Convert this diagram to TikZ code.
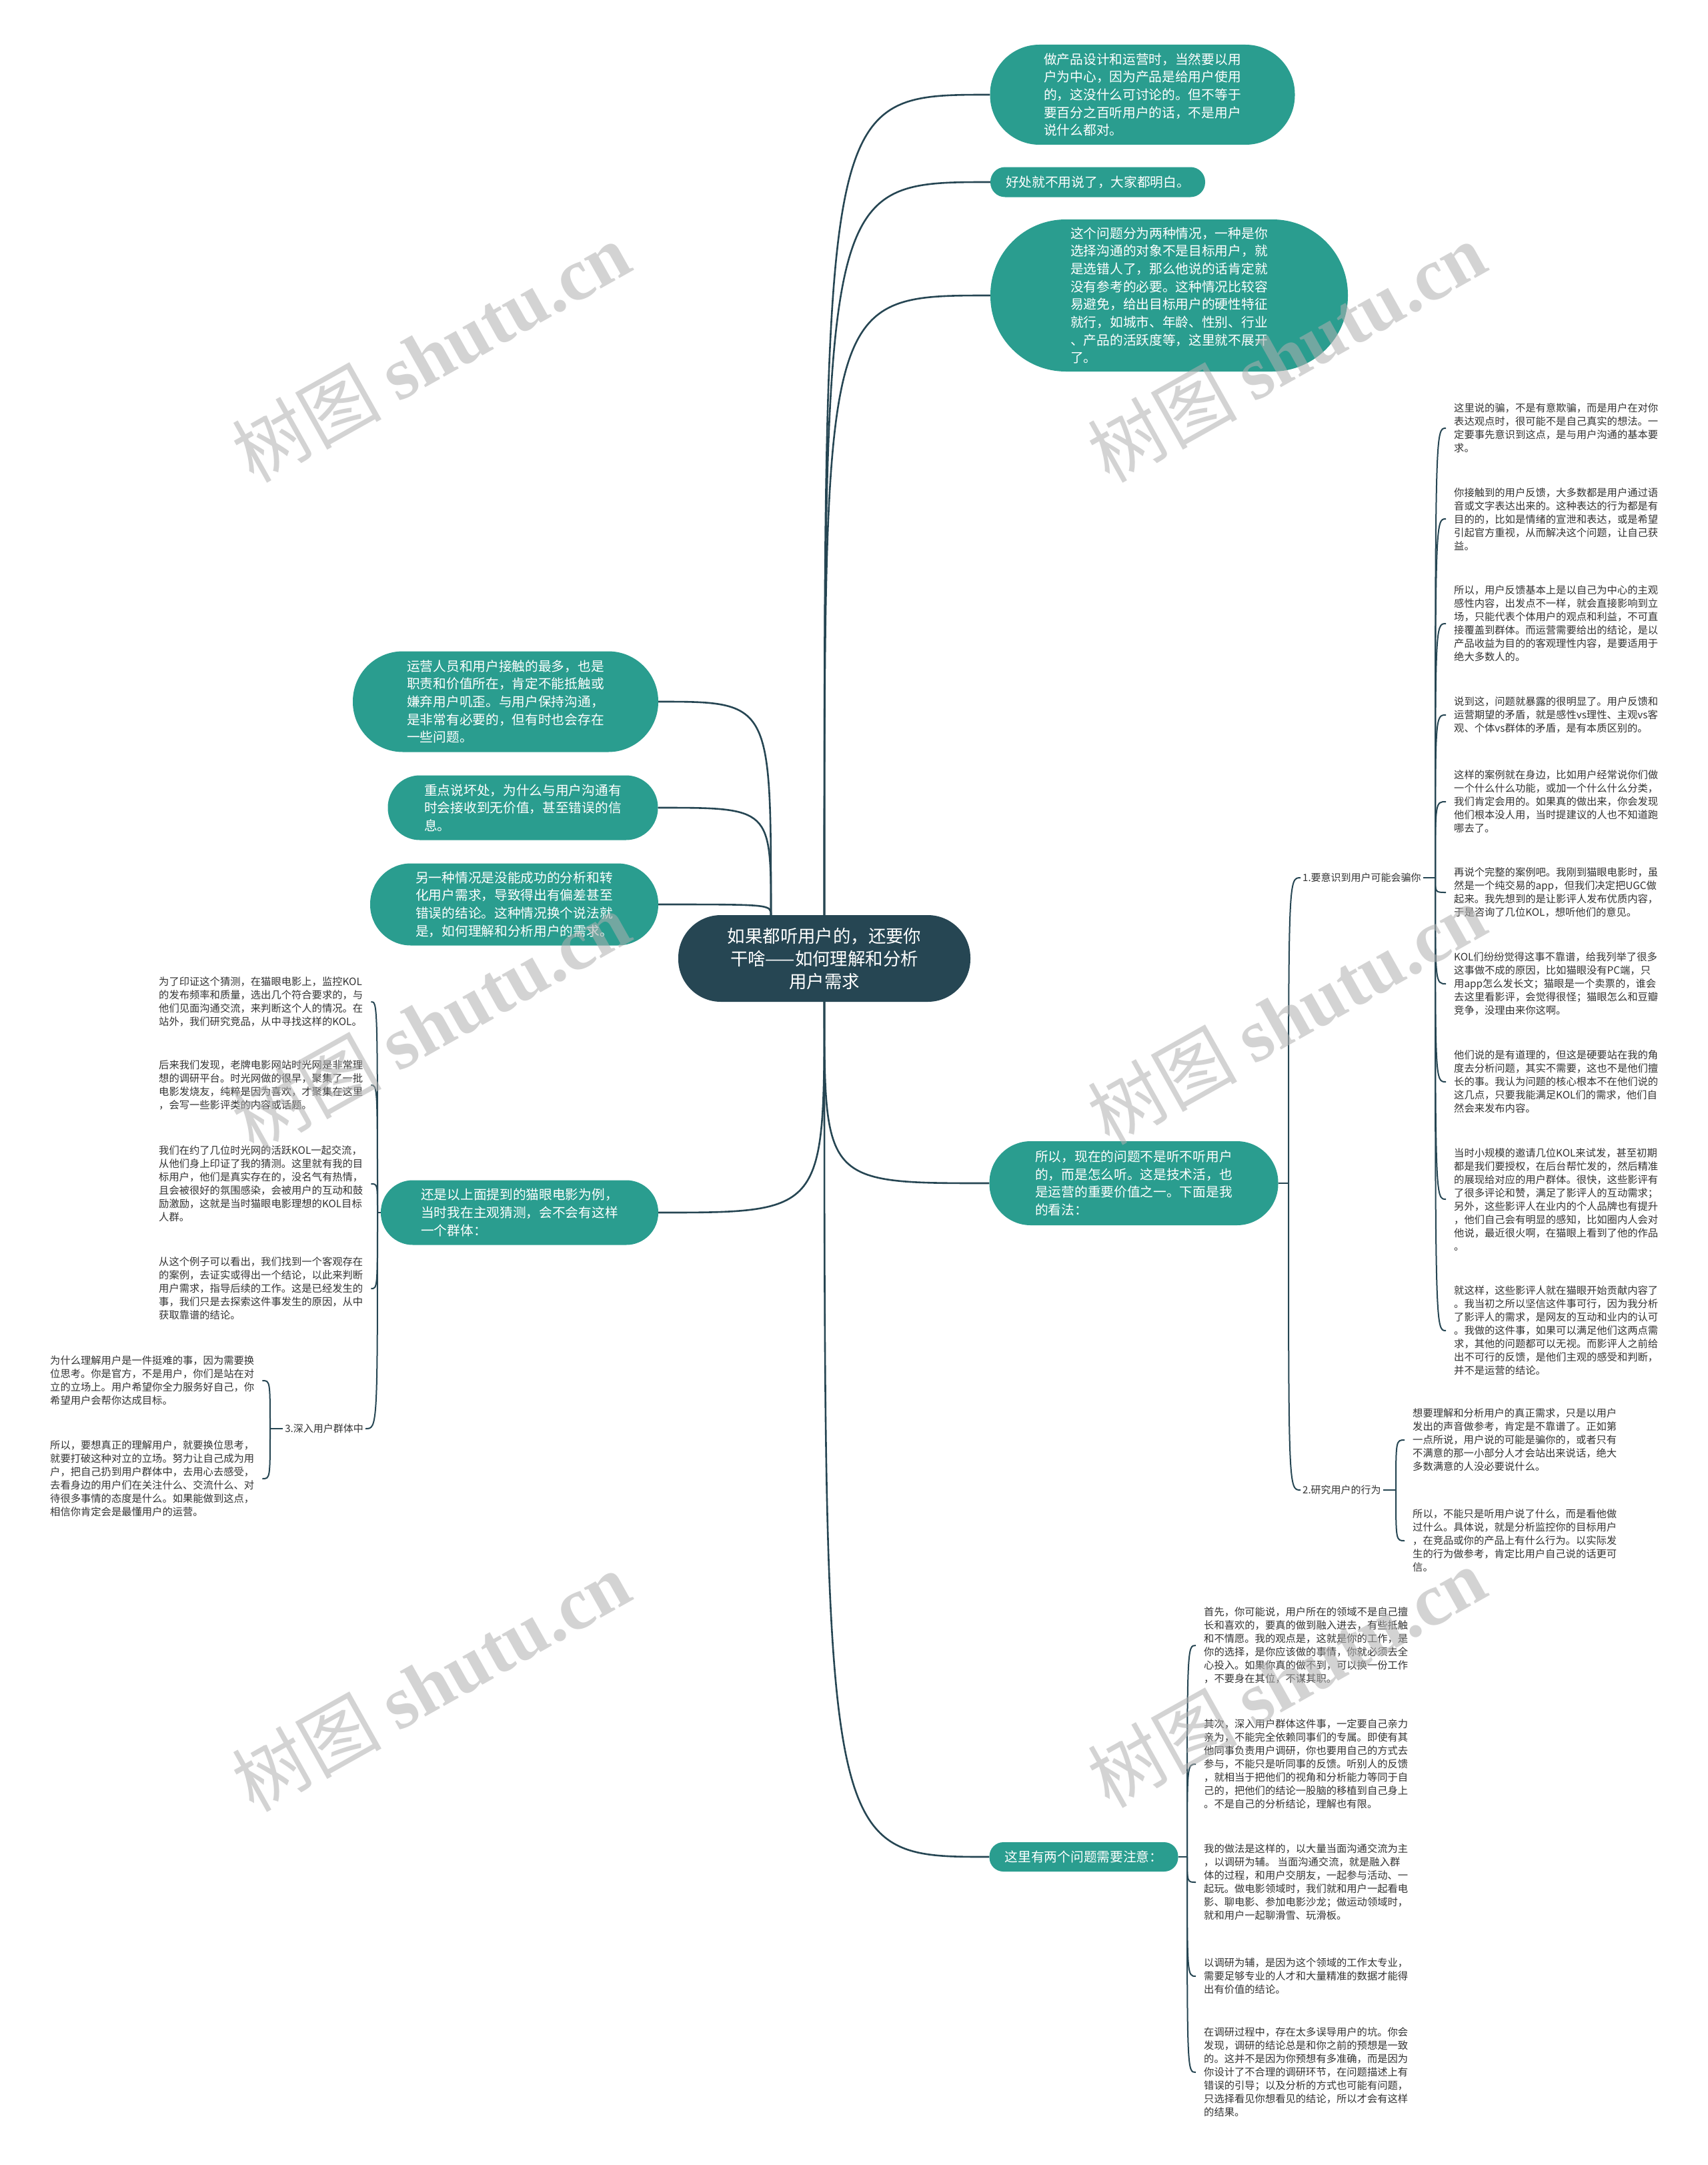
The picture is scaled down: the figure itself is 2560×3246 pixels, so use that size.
\documentclass[tikz,border=0pt]{standalone}
\usepackage{fontspec}
\setmainfont{Noto Sans CJK SC}
\newfontfamily\wmlatin{Liberation Serif}

\definecolor{topicblue}{HTML}{264653}
\definecolor{branchgreen}{HTML}{2A9D8F}
\definecolor{linkblue}{HTML}{264653}
\definecolor{leafgray}{HTML}{333333}
\definecolor{markgray}{HTML}{B0B0B0}

\begin{document}
\begin{tikzpicture}[
  x=1pt, y=-1pt,
  topic/.style={rectangle, fill=topicblue, text=white, align=center,
                inner sep=0pt, font=\fontsize{26.4}{34}\selectfont},
  branch/.style={rectangle, fill=branchgreen, text=white, align=left,
                 inner sep=0pt, font=\fontsize{19.7}{26.7}\selectfont},
  leaf/.style={align=left, text=leafgray, inner xsep=12pt, inner ysep=0pt,
               font=\fontsize{15.3}{20}\selectfont},
  sublabel/.style={text=leafgray, inner xsep=3pt, inner ysep=0pt,
                   font=\fontsize{15}{18}\selectfont},
  link/.style={draw=linkblue, line width=2.6pt},
  twig/.style={draw=linkblue, line width=2pt},
  brk/.style={to path={.. controls (\tikztostart |- \tikztotarget) .. (\tikztotarget)}},
  wmark/.style={text=markgray, opacity=0.55, rotate=29.3, inner sep=0pt,
                font=\fontsize{112}{112}\selectfont}
]
\useasboundingbox (0,0) rectangle (2560,3246);
\fill[white] (0,0) rectangle (2560,3246);

% Root
\node[topic, minimum width=438pt, minimum height=130pt, rounded corners=64pt] (root) at (1236,1437)
  {如果都听用户的，还要你\\干啥——如何理解和分析\\用户需求};
\coordinate (rootnw) at (1156,1372);

% Right side branches
\node[branch, minimum width=457pt, minimum height=150pt, rounded corners=74pt] (usercentre) at (1713,142)
  {做产品设计和运营时，当然要以用\\户为中心，因为产品是给用户使用\\的，这没什么可讨论的。但不等于\\要百分之百听用户的话，不是用户\\说什么都对。};
\node[branch, minimum width=322pt, minimum height=45pt, rounded corners=22pt] (benefit) at (1646,273)
  {好处就不用说了，大家都明白。};
\node[branch, minimum width=536pt, minimum height=228pt, rounded corners=113pt] (wrongpeople) at (1753,443)
  {这个问题分为两种情况，一种是你\\选择沟通的对象不是目标用户，就\\是选错人了，那么他说的话肯定就\\没有参考的必要。这种情况比较容\\易避免，给出目标用户的硬性特征\\就行，如城市、年龄、性别、行业\\、产品的活跃度等，这里就不展开\\了。};
\node[branch, minimum width=433pt, minimum height=126pt, rounded corners=62pt] (howlisten) at (1700,1774)
  {所以，现在的问题不是听不听用户\\的，而是怎么听。这是技术活，也\\是运营的重要价值之一。下面是我\\的看法：};
\node[branch, minimum width=283pt, minimum height=44pt, rounded corners=21pt] (twoissues) at (1625,2784)
  {这里有两个问题需要注意：};

% Left side branches
\node[branch, minimum width=458pt, minimum height=151pt, rounded corners=75pt] (contact) at (758,1052)
  {运营人员和用户接触的最多，也是\\职责和价值所在，肯定不能抵触或\\嫌弃用户叽歪。与用户保持沟通，\\是非常有必要的，但有时也会存在\\一些问题。};
\node[branch, minimum width=405pt, minimum height=97pt, rounded corners=48pt] (downside) at (784,1211)
  {重点说坏处，为什么与用户沟通有\\时会接收到无价值，甚至错误的信\\息。};
\node[branch, minimum width=432pt, minimum height=123pt, rounded corners=61pt] (analysis) at (771,1356)
  {另一种情况是没能成功的分析和转\\化用户需求，导致得出有偏差甚至\\错误的结论。这种情况换个说法就\\是，如何理解和分析用户的需求。};
\node[branch, minimum width=416pt, minimum height=97pt, rounded corners=48pt] (example) at (779,1818)
  {还是以上面提到的猫眼电影为例，\\当时我在主观猜测，会不会有这样\\一个群体：};

\draw[link] (root.north) to[brk] (usercentre.west);
\draw[link] (root.north) to[brk] (benefit.west);
\draw[link] (root.north) to[brk] (wrongpeople.west);
\draw[link] (rootnw) to[brk] (contact.east);
\draw[link] (rootnw) to[brk] (downside.east);
\draw[link] (rootnw) to[brk] (analysis.east);
\draw[link] (root.south) to[brk] (example.east);
\draw[link] (root.south) to[brk] (howlisten.west);
\draw[link] (root.south) to[brk] (twoissues.west);

% 1. / 2. under howlisten
\node[sublabel, anchor=west] (lab1) at (1950,1316) {1.要意识到用户可能会骗你};
\node[sublabel, anchor=west] (lab2) at (1950,2234) {2.研究用户的行为};
\coordinate (jhow) at (1932,1774);
\draw[twig] (howlisten.east) -- (jhow);
\draw[twig] (jhow) to[brk] (lab1.west);
\draw[twig] (jhow) to[brk] (lab2.west);

\node[leaf, anchor=west] (lie1) at (2168,642)
  {这里说的骗，不是有意欺骗，而是用户在对你\\表达观点时，很可能不是自己真实的想法。一\\定要事先意识到这点，是与用户沟通的基本要\\求。};
\node[leaf, anchor=west] (lie2) at (2168,778)
  {你接触到的用户反馈，大多数都是用户通过语\\音或文字表达出来的。这种表达的行为都是有\\目的的，比如是情绪的宣泄和表达，或是希望\\引起官方重视，从而解决这个问题，让自己获\\益。};
\node[leaf, anchor=west] (lie3) at (2168,935)
  {所以，用户反馈基本上是以自己为中心的主观\\感性内容，出发点不一样，就会直接影响到立\\场，只能代表个体用户的观点和利益，不可直\\接覆盖到群体。而运营需要给出的结论，是以\\产品收益为目的的客观理性内容，是要适用于\\绝大多数人的。};
\node[leaf, anchor=west] (lie4) at (2168,1072)
  {说到这，问题就暴露的很明显了。用户反馈和\\运营期望的矛盾，就是感性vs理性、主观vs客\\观、个体vs群体的矛盾，是有本质区别的。};
\node[leaf, anchor=west] (lie5) at (2168,1202)
  {这样的案例就在身边，比如用户经常说你们做\\一个什么什么功能，或加一个什么什么分类，\\我们肯定会用的。如果真的做出来，你会发现\\他们根本没人用，当时提建议的人也不知道跑\\哪去了。};
\node[leaf, anchor=west] (lie6) at (2168,1338)
  {再说个完整的案例吧。我刚到猫眼电影时，虽\\然是一个纯交易的app，但我们决定把UGC做\\起来。我先想到的是让影评人发布优质内容，\\于是咨询了几位KOL，想听他们的意见。};
\node[leaf, anchor=west] (lie7) at (2168,1475)
  {KOL们纷纷觉得这事不靠谱，给我列举了很多\\这事做不成的原因，比如猫眼没有PC端，只\\用app怎么发长文；猫眼是一个卖票的，谁会\\去这里看影评，会觉得很怪；猫眼怎么和豆瓣\\竞争，没理由来你这啊。};
\node[leaf, anchor=west] (lie8) at (2168,1622)
  {他们说的是有道理的，但这是硬要站在我的角\\度去分析问题，其实不需要，这也不是他们擅\\长的事。我认为问题的核心根本不在他们说的\\这几点，只要我能满足KOL们的需求，他们自\\然会来发布内容。};
\node[leaf, anchor=west] (lie9) at (2168,1798)
  {当时小规模的邀请几位KOL来试发，甚至初期\\都是我们要授权，在后台帮忙发的，然后精准\\的展现给对应的用户群体。很快，这些影评有\\了很多评论和赞，满足了影评人的互动需求；\\另外，这些影评人在业内的个人品牌也有提升\\，他们自己会有明显的感知，比如圈内人会对\\他说，最近很火啊，在猫眼上看到了他的作品\\。};
\node[leaf, anchor=west] (lie10) at (2168,1995)
  {就这样，这些影评人就在猫眼开始贡献内容了\\。我当初之所以坚信这件事可行，因为我分析\\了影评人的需求，是网友的互动和业内的认可\\。我做的这件事，如果可以满足他们这两点需\\求，其他的问题都可以无视。而影评人之前给\\出不可行的反馈，是他们主观的感受和判断，\\并不是运营的结论。};

\coordinate (jlie) at (2152,1316);
\draw[twig] (lab1.east) -- (jlie);
\draw[twig] (jlie) to[brk] (lie1.west);
\draw[twig] (jlie) to[brk] (lie2.west);
\draw[twig] (jlie) to[brk] (lie3.west);
\draw[twig] (jlie) to[brk] (lie4.west);
\draw[twig] (jlie) to[brk] (lie5.west);
\draw[twig] (jlie) to[brk] (lie6.west);
\draw[twig] (jlie) to[brk] (lie7.west);
\draw[twig] (jlie) to[brk] (lie8.west);
\draw[twig] (jlie) to[brk] (lie9.west);
\draw[twig] (jlie) to[brk] (lie10.west);

\node[leaf, anchor=west] (act1) at (2106,2159)
  {想要理解和分析用户的真正需求，只是以用户\\发出的声音做参考，肯定是不靠谱了。正如第\\一点所说，用户说的可能是骗你的，或者只有\\不满意的那一小部分人才会站出来说话，绝大\\多数满意的人没必要说什么。};
\node[leaf, anchor=west] (act2) at (2106,2310)
  {所以，不能只是听用户说了什么，而是看他做\\过什么。具体说，就是分析监控你的目标用户\\，在竞品或你的产品上有什么行为。以实际发\\生的行为做参考，肯定比用户自己说的话更可\\信。};
\coordinate (jact) at (2093,2234);
\draw[twig] (lab2.east) -- (jact);
\draw[twig] (jact) to[brk] (act1.west);
\draw[twig] (jact) to[brk] (act2.west);

% two issues
\node[leaf, anchor=west] (note1) at (1793,2467)
  {首先，你可能说，用户所在的领域不是自己擅\\长和喜欢的，要真的做到融入进去，有些抵触\\和不情愿。我的观点是，这就是你的工作，是\\你的选择，是你应该做的事情，你就必须去全\\心投入。如果你真的做不到，可以换一份工作\\，不要身在其位，不谋其职。};
\node[leaf, anchor=west] (note2) at (1793,2645)
  {其次，深入用户群体这件事，一定要自己亲力\\亲为，不能完全依赖同事们的专属。即使有其\\他同事负责用户调研，你也要用自己的方式去\\参与，不能只是听同事的反馈。听别人的反馈\\，就相当于把他们的视角和分析能力等同于自\\己的，把他们的结论一股脑的移植到自己身上\\。不是自己的分析结论，理解也有限。};
\node[leaf, anchor=west] (note3) at (1793,2822)
  {我的做法是这样的，以大量当面沟通交流为主\\，以调研为辅。 当面沟通交流，就是融入群\\体的过程，和用户交朋友，一起参与活动、一\\起玩。做电影领域时，我们就和用户一起看电\\影、聊电影、参加电影沙龙；做运动领域时，\\就和用户一起聊滑雪、玩滑板。};
\node[leaf, anchor=west] (note4) at (1793,2963)
  {以调研为辅，是因为这个领域的工作太专业，\\需要足够专业的人才和大量精准的数据才能得\\出有价值的结论。};
\node[leaf, anchor=west] (note5) at (1793,3107)
  {在调研过程中，存在太多误导用户的坑。你会\\发现，调研的结论总是和你之前的预想是一致\\的。这并不是因为你预想有多准确，而是因为\\你设计了不合理的调研环节，在问题描述上有\\错误的引导；以及分析的方式也可能有问题，\\只选择看见你想看见的结论，所以才会有这样\\的结果。};
\coordinate (jnote) at (1780,2784);
\draw[twig] (twoissues.east) -- (jnote);
\draw[twig] (jnote) to[brk] (note1.west);
\draw[twig] (jnote) to[brk] (note2.west);
\draw[twig] (jnote) to[brk] (note3.west);
\draw[twig] (jnote) to[brk] (note4.west);
\draw[twig] (jnote) to[brk] (note5.west);

% Maoyan example (left)
\node[leaf, anchor=west] (case1) at (226,1502)
  {为了印证这个猜测，在猫眼电影上，监控KOL\\的发布频率和质量，选出几个符合要求的，与\\他们见面沟通交流，来判断这个人的情况。在\\站外，我们研究竞品，从中寻找这样的KOL。};
\node[leaf, anchor=west] (case2) at (226,1627)
  {后来我们发现，老牌电影网站时光网是非常理\\想的调研平台。时光网做的很早，聚集了一批\\电影发烧友，纯粹是因为喜欢，才聚集在这里\\，会写一些影评类的内容或话题。};
\node[leaf, anchor=west] (case3) at (226,1775)
  {我们在约了几位时光网的活跃KOL一起交流，\\从他们身上印证了我的猜测。这里就有我的目\\标用户，他们是真实存在的，没名气有热情，\\且会被很好的氛围感染，会被用户的互动和鼓\\励激励，这就是当时猫眼电影理想的KOL目标\\人群。};
\node[leaf, anchor=west] (case4) at (226,1932)
  {从这个例子可以看出，我们找到一个客观存在\\的案例，去证实或得出一个结论，以此来判断\\用户需求，指导后续的工作。这是已经发生的\\事，我们只是去探索这件事发生的原因，从中\\获取靠谱的结论。};
\node[sublabel, anchor=east] (lab3) at (548,2142) {3.深入用户群体中};
\coordinate (jcase) at (566,1818);
\draw[twig] (example.west) -- (jcase);
\draw[twig] (jcase) to[brk] (case1.east);
\draw[twig] (jcase) to[brk] (case2.east);
\draw[twig] (jcase) to[brk] (case3.east);
\draw[twig] (jcase) to[brk] (case4.east);
\draw[twig] (jcase) to[brk] (lab3.east);

\node[leaf, anchor=west] (deep1) at (63,2070)
  {为什么理解用户是一件挺难的事，因为需要换\\位思考。你是官方，不是用户，你们是站在对\\立的立场上。用户希望你全力服务好自己，你\\希望用户会帮你达成目标。};
\node[leaf, anchor=west] (deep2) at (63,2217)
  {所以，要想真正的理解用户，就要换位思考，\\就要打破这种对立的立场。努力让自己成为用\\户，把自己扔到用户群体中，去用心去感受，\\去看身边的用户们在关注什么、交流什么、对\\待很多事情的态度是什么。如果能做到这点，\\相信你肯定会是最懂用户的运营。};
\coordinate (jdeep) at (405,2142);
\draw[twig] (lab3.west) -- (jdeep);
\draw[twig] (jdeep) to[brk] (deep1.east);
\draw[twig] (jdeep) to[brk] (deep2.east);

% Watermarks
\node[wmark] (wm1) at (646,528) {树图 {\wmlatin\bfseries shutu.cn}};
\node[wmark] (wm2) at (1929,528) {树图 {\wmlatin\bfseries shutu.cn}};
\node[wmark] (wm3) at (646,1532) {树图 {\wmlatin\bfseries shutu.cn}};
\node[wmark] (wm4) at (1929,1521) {树图 {\wmlatin\bfseries shutu.cn}};
\node[wmark] (wm5) at (646,2521) {树图 {\wmlatin\bfseries shutu.cn}};
\node[wmark] (wm6) at (1929,2515) {树图 {\wmlatin\bfseries shutu.cn}};

\end{tikzpicture}
\end{document}
